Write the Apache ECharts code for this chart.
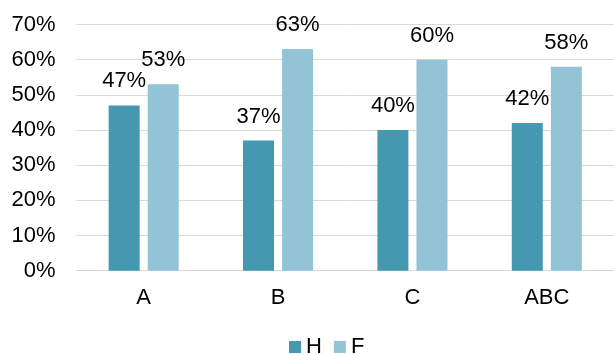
<!DOCTYPE html>
<html>
<head>
<meta charset="utf-8">
<script src="https://cdn.jsdelivr.net/npm/echarts@6/dist/echarts.min.js"></script>
<style>
  html, body { margin: 0; padding: 0; background: #fff; }
  #chart { width: 614px; height: 354px; }
</style>
</head>
<body>
<div id="chart"></div>
<script>
// Category names along the x axis
const categories = ['A', 'B', 'C', 'ABC'];
// Share per category, in percent
const seriesNames = ['H', 'F'];
const hValues = [47, 37, 40, 42];
const fValues = [53, 63, 60, 58];
// Value axis range
const yMin = 0;
const yMax = 70;
const yStep = 10;

const FONT = "'Liberation Sans', Arial, sans-serif";
const colors = ['#4498AF', '#93C4D6'];

const chart = echarts.init(document.getElementById('chart'), null, { renderer: 'canvas' });

const labelStyle = {
  show: true,
  position: 'top',
  distance: 13,
  formatter: p => p.value + '%',
  color: '#000',
  fontSize: 22,
  fontFamily: FONT
};

chart.setOption({
  animation: false,
  color: colors,
  textStyle: { fontFamily: FONT },
  grid: { left: 76.5, right: -2, top: 24.5, bottom: 83.3, containLabel: false },
  legend: {
    data: seriesNames,
    top: 331,
    left: 284,
    icon: 'rect',
    itemWidth: 12,
    itemHeight: 12,
    itemGap: 12,
    textStyle: { fontSize: 22, color: '#000', fontFamily: FONT }
  },
  xAxis: {
    type: 'category',
    data: categories,
    axisLine: { lineStyle: { color: '#d9d9d9', width: 1 } },
    axisTick: { show: false },
    axisLabel: { color: '#000', fontSize: 22, fontFamily: FONT, margin: 16 }
  },
  yAxis: {
    type: 'value',
    min: yMin,
    max: yMax,
    interval: yStep,
    axisLine: { show: false },
    axisTick: { show: false },
    splitLine: { lineStyle: { color: '#d9d9d9', width: 1 } },
    axisLabel: { color: '#000', fontSize: 22, fontFamily: FONT, margin: 21, formatter: '{value}%' }
  },
  series: [
    { name: seriesNames[0], type: 'bar', data: hValues, barWidth: 31, barGap: '26%', label: labelStyle },
    { name: seriesNames[1], type: 'bar', data: fValues, barWidth: 31, barGap: '26%', label: labelStyle }
  ]
});
</script>
</body>
</html>
